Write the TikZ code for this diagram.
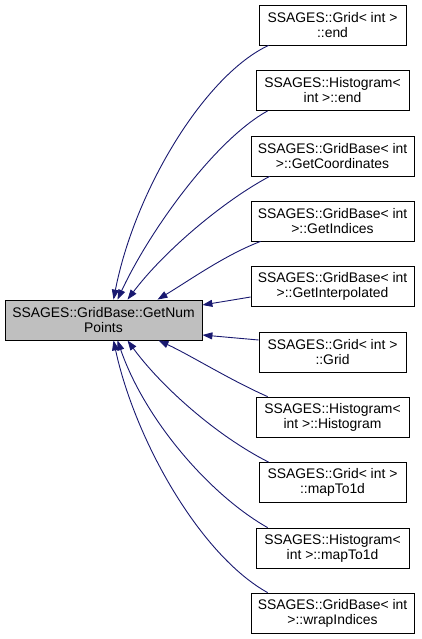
\documentclass[tikz,border=0pt]{standalone}
\usepackage{fontspec}
\setmainfont{Liberation Sans}
\usetikzlibrary{arrows.meta}
\definecolor{edgeblue}{RGB}{25,25,112}
\begin{document}
\begin{tikzpicture}[x=1pt,y=-1pt,>={Stealth[inset=0pt,length=10pt,width=7pt]},font=\fontsize{13.9}{15}\selectfont]
\tikzstyle{fn}=[draw,line width=0.8pt,minimum height=40pt,inner sep=0pt,align=center,fill=white]
\tikzstyle{call}=[->,draw=edgeblue,line width=0.9pt]
\useasboundingbox (0,0) rectangle (421,639);
\node[fn,fill=black!25,minimum width=197pt] (main) at (103.5,320) {SSAGES::GridBase::GetNum\\Points};
\foreach \i/\y/\w/\t in {1/25/147/{SSAGES::Grid< int >\\::end},2/90.5/153/{SSAGES::Histogram<\\int >::end},3/156/163/{SSAGES::GridBase< int\\>::GetCoordinates},4/221/163/{SSAGES::GridBase< int\\>::GetIndices},5/286.5/163/{SSAGES::GridBase< int\\>::GetInterpolated},6/352/147/{SSAGES::Grid< int >\\::Grid},7/417/153/{SSAGES::Histogram<\\int >::Histogram},8/482.5/147/{SSAGES::Grid< int >\\::mapTo1d},9/548/153/{SSAGES::Histogram<\\int >::mapTo1d},10/613/163/{SSAGES::GridBase< int\\>::wrapIndices}} \node[fn,minimum width=\w pt] (n\i) at (332.5,\y) {\t};
\draw[call] ([xshift=10pt]n1.south west) .. controls (205,75) and (135,190) .. ([xshift=10pt]main.north);
\draw[call] ([xshift=12pt]n2.south west) .. controls (215,140) and (150,230) .. ([xshift=14pt]main.north);
\draw[call] ([xshift=19pt]n3.south west) .. controls (225,200) and (165,250) .. ([xshift=24pt]main.north);
\draw[call] ([xshift=10pt]n4.south west) .. controls (225,255) and (190,280) .. ([xshift=54pt]main.north);
\draw[call] ([yshift=-10.5pt]n5.west) -- ([yshift=15pt]main.east);
\draw[call] ([yshift=12pt]n6.west) -- ([yshift=-15pt]main.east);
\draw[call] ([xshift=12pt]n7.north west) .. controls (230,380) and (190,355) .. ([xshift=55pt]main.south);
\draw[call] ([xshift=10pt]n8.north west) .. controls (215,435) and (160,385) .. ([xshift=24pt]main.south);
\draw[call] ([xshift=12pt]n9.north west) .. controls (210,495) and (145,420) .. ([xshift=14pt]main.south);
\draw[call] ([xshift=17pt]n10.north west) .. controls (200,555) and (135,440) .. ([xshift=10pt]main.south);
\end{tikzpicture}
\end{document}
